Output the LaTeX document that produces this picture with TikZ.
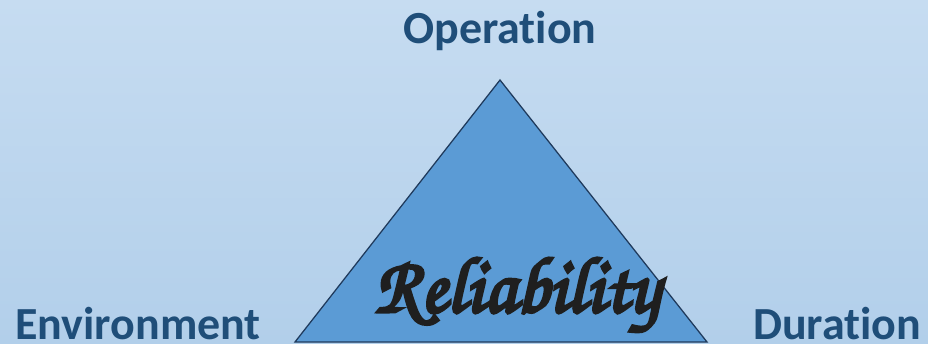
\documentclass[tikz,border=0pt]{standalone}
\usepackage{fontspec}
\usepackage{graphicx}
\setmainfont{Carlito}[Ligatures=NoCommon]
\newfontfamily\chorusfont[FakeBold=4]{texgyrechorus-mediumitalic.otf}
\definecolor{bgtop}{HTML}{C6DCF1}
\definecolor{bgbottom}{HTML}{B2CFEA}
\definecolor{trifill}{HTML}{5B9BD5}
\definecolor{triedge}{HTML}{1F3A5C}
\definecolor{labelblue}{HTML}{1F4E79}
\tikzset{corner/.style={font=\bfseries\fontsize{32.7}{36}\selectfont,text=labelblue,inner sep=0pt}}

\begin{document}
\begin{tikzpicture}[x=0.025cm,y=-0.025cm]

            %\draw [help lines] (0,0) grid (928,343);
            \shade[top color=bgtop,bottom color=bgbottom] (0,0) rectangle (928,343);
            \useasboundingbox (0,0) rectangle (928,343);

            \path   (500,80)  coordinate (top)
                    (295,342) coordinate (left)
                    (707,342) coordinate (right);

            \draw[triedge,fill=trifill,line width=0.9pt,line join=miter] (top) -- (left) -- (right) -- cycle;

            \path   (500,43)  node (op)  [corner,anchor=base] {Operation}
                    (15,339)  node (env) [corner,anchor=base west] {Environment}
                    (753,339) node (dur) [corner,anchor=base west] {Duration}
                    (517,312) node (rel) [inner sep=0pt,anchor=base,text=black!88] {\resizebox{7.125cm}{1.35cm}{\chorusfont Reliability}};
        \end{tikzpicture}
\end{document}
